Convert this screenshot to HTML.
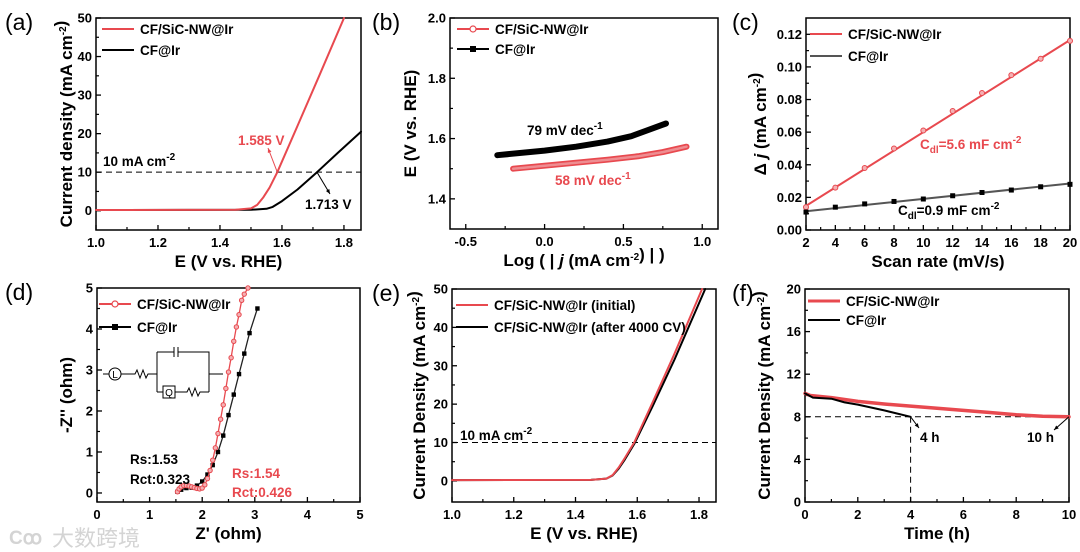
<!DOCTYPE html>
<html><head><meta charset="utf-8"><style>
html,body{margin:0;padding:0;background:#fff;}
svg{display:block;font-family:"Liberation Sans",Arial,sans-serif;}
.tk{font-size:13px;font-weight:bold;}
.ttl{font-size:17px;font-weight:bold;}
.lg{font-size:13.5px;font-weight:bold;}
.pl{font-size:23px;}
</style></head><body>
<svg id="fig" width="1080" height="552" viewBox="0 0 1080 552" xmlns="http://www.w3.org/2000/svg">
<text x="52" y="546" font-size="22" fill="#d4d4d4" font-family="'Noto Sans CJK SC',sans-serif">大数跨境</text>
<text x="9" y="544" font-size="19" fill="#d4d4d4" font-weight="bold">Cꝏ</text>
</svg>
<script>
// ---------- data ----------
const aRedX=[1.0,1.45,1.5,1.52,1.54,1.56,1.585,1.65,1.72,1.8];
const aRedY=[0.2,0.25,0.6,1.5,3.5,6,10,22,35,50];
const aBlkX=[1.0,1.5,1.55,1.57,1.6,1.65,1.713,1.78,1.855];
const aBlkY=[0.2,0.25,0.5,1,2.5,5.5,10,15,20.5];
const bRedX=[-0.2,0.0,0.2,0.4,0.6,0.75,0.9];
const bRedY=[1.50,1.51,1.52,1.53,1.542,1.555,1.573];
const bBlkX=[-0.3,0.0,0.2,0.4,0.55,0.77];
const bBlkY=[1.545,1.56,1.573,1.59,1.608,1.65];
const cX=[2,4,6,8,10,12,14,16,18,20];
const cRed=[0.014,0.026,0.038,0.050,0.061,0.073,0.084,0.095,0.105,0.116];
const cBlk=[0.011,0.014,0.016,0.0175,0.019,0.021,0.023,0.0245,0.0265,0.028];
const dRedX=[1.53,1.56,1.6,1.65,1.7,1.75,1.8,1.85,1.9,1.95,2.0,2.05,2.1,2.15,2.2,2.25,2.3,2.35,2.4,2.45,2.5,2.55,2.6,2.65,2.7,2.75,2.8,2.87];
const dRedY=[0.03,0.1,0.15,0.18,0.18,0.17,0.15,0.13,0.11,0.1,0.12,0.2,0.35,0.55,0.8,1.1,1.45,1.8,2.15,2.55,2.95,3.3,3.7,4.05,4.35,4.7,4.85,5.0];
const dBlkX=[1.53,1.6,1.7,1.8,1.9,2.0,2.1,2.2,2.3,2.4,2.5,2.6,2.7,2.8,2.9,3.05];
const dBlkY=[0.03,0.08,0.12,0.13,0.18,0.28,0.45,0.68,1.0,1.4,1.9,2.4,2.9,3.4,3.9,4.5];
const eRedX=[1.0,1.45,1.5,1.52,1.54,1.56,1.59,1.65,1.72,1.81];
const eRedY=[0.2,0.25,0.6,1.5,3.5,6,10,20.5,33,50];
const eBlkX=[1.0,1.45,1.5,1.52,1.54,1.56,1.59,1.65,1.72,1.82];
const eBlkY=[0.2,0.25,0.6,1.4,3.2,5.6,9.6,19.5,31.5,50];
const fRedX=[0,0.2,1,2,3,4,5,6,7,8,9,10];
const fRedY=[10.2,10.0,9.8,9.45,9.2,9.0,8.8,8.6,8.4,8.2,8.05,8.0];
const fBlkX=[0,0.3,1,1.5,2,3,4];
const fBlkY=[10.2,9.8,9.7,9.35,9.15,8.6,8.0];
const aTicksX=[1.0,1.2,1.4,1.6,1.8], aTicksY=[0,10,20,30,40,50];
const bTicksX=[-0.5,0.0,0.5,1.0], bTicksY=[1.4,1.6,1.8,2.0];
const cTicksX=[2,4,6,8,10,12,14,16,18,20], cTicksY=[0,0.02,0.04,0.06,0.08,0.10,0.12];
const dTicks=[0,1,2,3,4,5];
const eTicksX=[1.0,1.2,1.4,1.6,1.8], eTicksY=[0,10,20,30,40,50];
const fTicksX=[0,2,4,6,8,10], fTicksY=[0,4,8,12,16,20];

const NS='http://www.w3.org/2000/svg';
const svg=document.getElementById('fig');
const RED='#e8494f';
function el(tag,attrs,parent){const e=document.createElementNS(NS,tag);for(const k in attrs)e.setAttribute(k,attrs[k]);(parent||svg).appendChild(e);return e;}
function txt(x,y,s,cls,parent,anchor,fill){const t=el('text',{x:x,y:y,class:cls,'text-anchor':anchor||'start',fill:fill||'#000'},parent);t.innerHTML=s;return t;}

function panel(p){
  const g=el('g',{});
  
  
  const sx=v=>p.L+(v-p.x0)/(p.x1-p.x0)*(p.R-p.L);
  const sy=v=>p.B-(v-p.y0)/(p.y1-p.y0)*(p.B-p.T);
  p.sx=sx;p.sy=sy;p.g=g;
  const fr=el('rect',{x:p.L,y:p.T,width:p.R-p.L,height:p.B-p.T,fill:'none',stroke:'#000','stroke-width':1.5},g);
  
  
  p.xt.forEach((v,i)=>{const x=sx(v);el('line',{x1:x,x2:x,y1:p.B,y2:p.B-5,stroke:'#000','stroke-width':1.3},g);
    const t=txt(x,p.B+17,p.xl?p.xl[i]:String(v),'tk',g,'middle');
    if(i<p.xt.length-1){const m=sx((v+p.xt[i+1])/2);el('line',{x1:m,x2:m,y1:p.B,y2:p.B-3,stroke:'#000','stroke-width':1.2},g);}});
  p.yt.forEach((v,i)=>{const y=sy(v);el('line',{x1:p.L,x2:p.L+5,y1:y,y2:y,stroke:'#000','stroke-width':1.3},g);
    const t=txt(p.L-4,y+4.5,p.yl?p.yl[i]:String(v),'tk',g,'end');
    if(i<p.yt.length-1){const m=sy((v+p.yt[i+1])/2);el('line',{x1:p.L,x2:p.L+3,y1:m,y2:m,stroke:'#000','stroke-width':1.2},g);}});
  const xt=txt((p.L+p.R)/2,p.B+37,p.xtitle,'ttl',g,'middle');
  const cy=(p.T+p.B)/2;
  const yt=txt(p.ytx,cy,p.ytitle,'ttl',g,'middle');yt.setAttribute('transform','rotate(-90 '+p.ytx+' '+cy+')');
  
  const pl=txt(p.plx,p.T+12,p.label,'pl',g);
  return p;
}
function line(p,xs,ys,color,w,name){
  const d=xs.map((x,i)=>(i?'L':'M')+p.sx(x).toFixed(1)+' '+p.sy(ys[i]).toFixed(1)).join(' ');
  const e=el('path',{d:d,fill:'none',stroke:color,'stroke-width':w,'stroke-linejoin':'round','stroke-linecap':'round'},p.g);
  return e;
}
function markers(p,xs,ys,color,type,name,sz){
  xs.forEach((x,i)=>{let m;
    if(type==='sq')m=el('rect',{x:p.sx(x)-(sz||2.5),y:p.sy(ys[i])-(sz||2.5),width:2*(sz||2.5),height:2*(sz||2.5),fill:color},p.g);
    else m=el('circle',{cx:p.sx(x),cy:p.sy(ys[i]),r:sz||2.5,fill:'#f4b0b3',stroke:color,'stroke-width':1},p.g);
    });
}
function legend(p,x,y,color,label,mk,w){
  const l=el('line',{x1:x,x2:x+32,y1:y,y2:y,stroke:color,'stroke-width':w||2},p.g);
  
  if(mk==='sq'){el('rect',{x:x+13,y:y-3,width:6,height:6,fill:color},p.g);}
  if(mk==='c'){el('circle',{cx:x+16,cy:y,r:3,fill:'#fff',stroke:color,'stroke-width':1.2},p.g);}
  const t=txt(x+38,y+5,label,'lg',p.g);
}
function dash(p,x1,y1,x2,y2){const e=el('line',{x1:x1,y1:y1,x2:x2,y2:y2,stroke:'#000','stroke-width':1,'stroke-dasharray':'6,4'},p.g);}
function arrow(p,x1,y1,x2,y2,c){el('line',{x1:x1,y1:y1,x2:x2,y2:y2,stroke:c,'stroke-width':1},p.g);
  const a=Math.atan2(y2-y1,x2-x1),s=5;
  el('path',{d:`M${x2} ${y2} L${x2-s*Math.cos(a-0.4)} ${y2-s*Math.sin(a-0.4)} L${x2-s*Math.cos(a+0.4)} ${y2-s*Math.sin(a+0.4)}Z`,fill:c},p.g);}
const sup=s=>`<tspan dy="-6" font-size="10">${s}</tspan><tspan dy="6"></tspan>`;

// (a)
const A=panel({name:'panel-a-lsv',label:'(a)',plx:5,L:96,R:361,T:18,B:230,x0:1.0,x1:1.855,y0:-5,y1:50,xt:aTicksX,xl:['1.0','1.2','1.4','1.6','1.8'],yt:aTicksY,ytx:72,
  xtitle:'E (V vs. RHE)',ytitle:'Current density (mA cm'+sup('-2')+')'});
dash(A,A.L,A.sy(10),A.R,A.sy(10));
line(A,aBlkX,aBlkY,'#000',2,'line-cf-ir');
line(A,aRedX,aRedY,RED,2,'line-cf-sic-nw-ir');
legend(A,102,29,RED,'CF/SiC-NW@Ir');legend(A,102,50,'#000','CF@Ir');
txt(103,166,'10 mA cm'+sup('-2'),'lg',A.g);
txt(238,145,'1.585 V','lg',A.g,'start',RED);
arrow(A,A.sx(1.585),A.sy(10),268,148,RED);
txt(305,209,'1.713 V','lg',A.g);
arrow(A,A.sx(1.713),A.sy(10),330,194,'#000');

// (b)
const Bp=panel({name:'panel-b-tafel',label:'(b)',plx:372,L:450,R:718,T:18,B:229,x0:-0.6,x1:1.1,y0:1.3,y1:2.0,xt:bTicksX,xl:['-0.5','0.0','0.5','1.0'],yt:bTicksY,yl:['1.4','1.6','1.8','2.0'],ytx:416,
  xtitle:'Log ( | <tspan font-style="italic">j</tspan> (mA cm'+sup('-2')+') | )',ytitle:'E (V vs. RHE)'});
line(Bp,bBlkX,bBlkY,'#000',6,'line-cf-ir');
line(Bp,bRedX,bRedY,RED,6,'line-cf-sic-nw-ir');
line(Bp,bRedX,bRedY,'#ee8d91',2.5,'line-cf-sic-nw-ir-markers');
legend(Bp,457,29,RED,'CF/SiC-NW@Ir','c');legend(Bp,457,49,'#000','CF@Ir','sq');
txt(527,135,'79 mV dec'+sup('-1'),'lg',Bp.g);
txt(555,185,'58 mV dec'+sup('-1'),'lg',Bp.g,'start',RED);

// (c)
const C=panel({name:'panel-c-cdl',label:'(c)',plx:732,L:806,R:1070,T:18,B:230,x0:2,x1:20,y0:0,y1:0.13,xt:cTicksX,yt:cTicksY,yl:['0.00','0.02','0.04','0.06','0.08','0.10','0.12'],ytx:766,
  xtitle:'Scan rate (mV/s)',ytitle:'Δ <tspan font-style="italic">j</tspan> (mA cm'+sup('-2')+')'});
line(C,[2,20],[0.0148,0.1165],RED,2,'fit-cf-sic-nw-ir');
line(C,[2,20],[0.0115,0.0285],'#555',2,'fit-cf-ir');
markers(C,cX,cRed,RED,'c','point-cf-sic-nw-ir',2.5);
markers(C,cX,cBlk,'#000','sq','point-cf-ir',2.5);
legend(C,810,34,RED,'CF/SiC-NW@Ir');legend(C,810,56,'#555','CF@Ir');
txt(920,149,'C<tspan dy="4" font-size="10">dl</tspan><tspan dy="-4">=5.6 mF cm</tspan>'+sup('-2'),'lg',C.g,'start',RED);
txt(898,215,'C<tspan dy="4" font-size="10">dl</tspan><tspan dy="-4">=0.9 mF cm</tspan>'+sup('-2'),'lg',C.g);

// (d)
const D=panel({name:'panel-d-eis',label:'(d)',plx:5,L:97,R:360,T:288,B:502,x0:0,x1:5,y0:-0.22,y1:5,xt:dTicks,yt:dTicks,ytx:72,
  xtitle:"Z' (ohm)",ytitle:"-Z'' (ohm)"});
line(D,dBlkX,dBlkY,'#222',1.3,'line-cf-ir');
markers(D,dBlkX,dBlkY,'#000','sq','point-cf-ir',2.2);
line(D,dRedX,dRedY,RED,1.3,'line-cf-sic-nw-ir');
markers(D,dRedX,dRedY,RED,'c','point-cf-sic-nw-ir',2.2);
legend(D,99,304,RED,'CF/SiC-NW@Ir','c');legend(D,99,327,'#000','CF@Ir','sq');
(function(){const g=el('g',{},D.g);
 const s={stroke:'#000','stroke-width':1,fill:'none'};
 el('line',Object.assign({x1:103,y1:374,x2:109,y2:374},s),g);el('circle',Object.assign({cx:115,cy:374,r:6},s),g);
 const tl=txt(115,378,'L','',g,'middle');tl.setAttribute('font-size','10');
 el('path',Object.assign({d:'M121 374 L135 374 L137 370 L140 378 L143 370 L146 378 L148 374 L157 374'},s),g);
 el('path',Object.assign({d:'M157 352 L157 392 M157 352 L174 352 M178 352 L209 352 L209 392 M157 392 L163 392 M175 392 L187 392 L189 388 L192 396 L195 388 L198 396 L200 392 L209 392 M209 374 L223 374'},s),g);
 el('path',Object.assign({d:'M174 347 L174 357 M178 347 L178 357'},s),g);
 el('rect',Object.assign({x:163,y:386,width:12,height:12},s),g);
 const tq=txt(169,396,'Q','',g,'middle');tq.setAttribute('font-size','10');})();
txt(130,464,'Rs:1.53','lg',D.g);txt(130,484,'Rct:0.323','lg',D.g);
txt(232,478,'Rs:1.54','lg',D.g,'start',RED);txt(232,497,'Rct:0.426','lg',D.g,'start',RED);

// (e)
const E=panel({name:'panel-e-stability-lsv',label:'(e)',plx:372,L:452,R:716,T:289,B:502,x0:1.0,x1:1.855,y0:-5.5,y1:50,xt:eTicksX,xl:['1.0','1.2','1.4','1.6','1.8'],yt:eTicksY,ytx:425,
  xtitle:'E (V vs. RHE)',ytitle:'Current Density (mA cm'+sup('-2')+')'});
dash(E,E.L,E.sy(10),E.R,E.sy(10));
line(E,eBlkX,eBlkY,'#000',2,'line-after-4000cv');
line(E,eRedX,eRedY,RED,2,'line-initial');
legend(E,456,305,RED,'CF/SiC-NW@Ir (initial)');legend(E,456,327,'#000','CF/SiC-NW@Ir (after 4000 CV)');
txt(460,440,'10 mA cm'+sup('-2'),'lg',E.g);

// (f)
const F=panel({name:'panel-f-chrono',label:'(f)',plx:732,L:805,R:1069,T:289,B:502,x0:0,x1:10,y0:0,y1:20,xt:fTicksX,yt:fTicksY,ytx:770,
  xtitle:'Time (h)',ytitle:'Current Density (mA cm'+sup('-2')+')'});
dash(F,F.L,F.sy(8),F.R,F.sy(8));
dash(F,F.sx(4),F.sy(8),F.sx(4),F.B);
line(F,fRedX,fRedY,RED,3.5,'line-cf-sic-nw-ir');
line(F,fBlkX,fBlkY,'#000',2,'line-cf-ir');
legend(F,808,301,RED,'CF/SiC-NW@Ir','',3);legend(F,808,320,'#000','CF@Ir');
txt(920,442,'4 h','lg',F.g);txt(1027,442,'10 h','lg',F.g);
arrow(F,F.sx(4),F.sy(8),919,428,'#000');
arrow(F,F.sx(10),F.sy(8),1054,430,'#000');
</script>
</body></html>
